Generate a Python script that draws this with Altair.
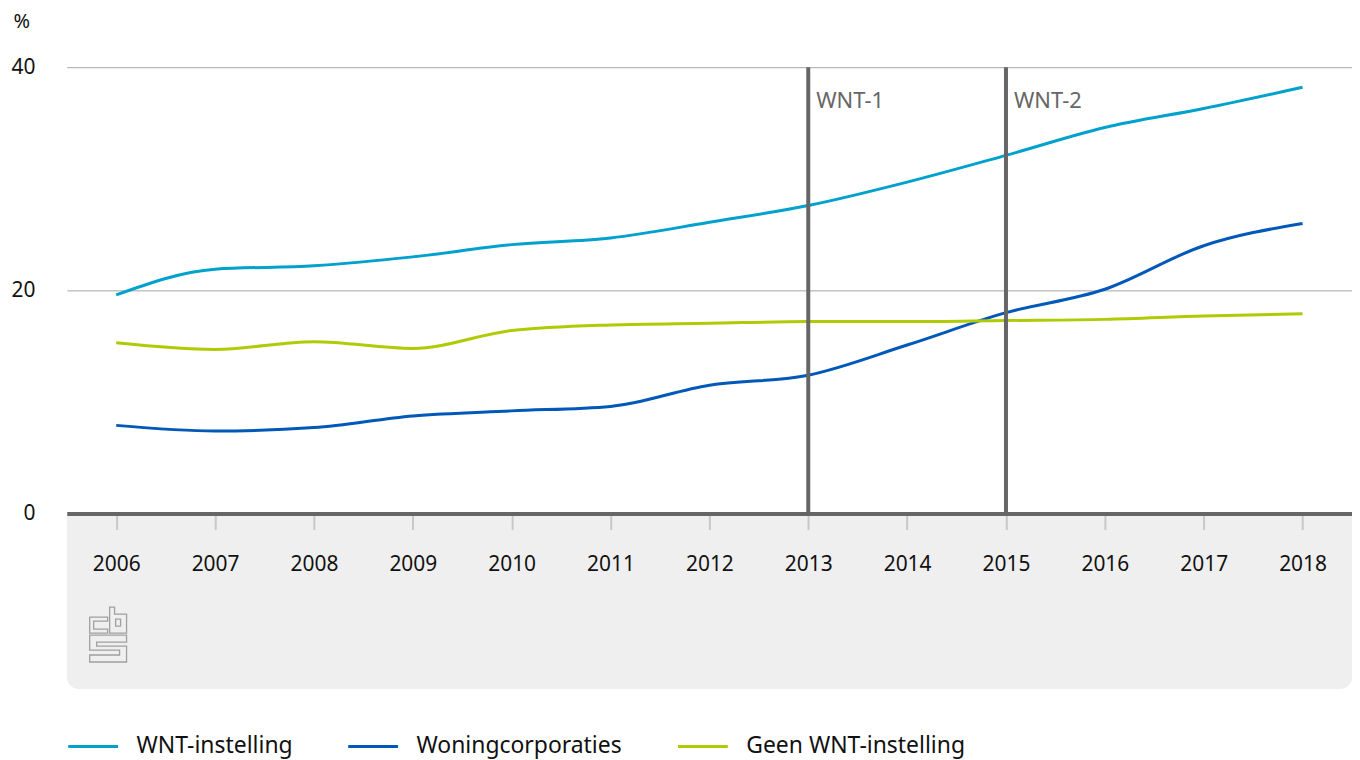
import altair as alt
import pandas as pd

years = list(range(2006, 2019))
wnt = [19.6, 21.9, 22.2, 23.0, 24.1, 24.7, 26.1, 27.6, 29.7, 32.1, 34.6, 36.3, 38.2]
woning = [7.9, 7.4, 7.7, 8.75, 9.2, 9.6, 11.5, 12.4, 15.1, 18.0, 20.1, 24.0, 26.0]
geen = [15.3, 14.7, 15.4, 14.8, 16.4, 16.9, 17.05, 17.2, 17.2, 17.3, 17.4, 17.7, 17.9]
series_names = ["WNT-instelling", "Woningcorporaties", "Geen WNT-instelling"]
series_colors = ["#00a1cd", "#0058b8", "#afcb05"]

marker_years = [2013, 2015]
marker_labels = ["WNT-1", "WNT-2"]
y_ticks = [0, 20, 40]

FONT = "Noto Sans"
W, H = 1290, 448

rows = []
for name, vals in zip(series_names, [wnt, woning, geen]):
    for yr, v in zip(years, vals):
        rows.append({"jaar": yr, "waarde": v, "reeks": name})
df = pd.DataFrame(rows)
markers = pd.DataFrame({"jaar": marker_years, "label": marker_labels, "pos": [37, 37]})

# cbs logo outline (pixel coords inside a 37x55 box)
logo_polys = [
    [(18, 10), (0, 10), (0, 26), (18, 26), (18, 22), (4, 22), (4, 14), (18, 14)],
    [(20, 0), (25, 0), (25, 7), (37, 7), (37, 26), (20, 26)],
    [(26, 12), (31, 12), (31, 19), (26, 19)],
    [(0, 28), (37, 28), (37, 35), (7, 35), (7, 39), (37, 39), (37, 55), (0, 55),
     (0, 48), (30, 48), (30, 43), (0, 43)],
]
def to_path(polys):
    parts = []
    for poly in polys:
        pts = [((x - 18.5) / 27.5, (y - 27.5) / 27.5) for x, y in poly]
        s = "M%.3f,%.3f" % pts[0] + "".join("L%.3f,%.3f" % p for p in pts[1:]) + "Z"
        parts.append(s)
    return "".join(parts)
logo_path = to_path(logo_polys)

one = pd.DataFrame({"a": [0]})

bg = alt.Chart(one).mark_rect(
    color="#efefef", cornerRadiusBottomLeft=12, cornerRadiusBottomRight=12, clip=False
).encode(
    x=alt.value(0), x2=alt.value(W), y=alt.value(H), y2=alt.value(H + 176)
)

logo = alt.Chart(one).mark_point(
    shape=logo_path, size=3025, filled=False, stroke="#a0a0a0", strokeWidth=1.3,
    opacity=1, clip=False
).encode(x=alt.value(41.5), y=alt.value(569.5))

xscale = alt.Scale(domain=[2005.5, 2018.5], nice=False, zero=False)
yscale = alt.Scale(domain=[0, 40], nice=False)

lines = alt.Chart(df).mark_line(interpolate="monotone", strokeWidth=3).encode(
    x=alt.X("jaar:Q", scale=xscale, axis=alt.Axis(
        values=years, format="d", title=None, zindex=1,
        domainColor="#666666", domainWidth=4,
        tickColor="#c8c8c8", tickWidth=2, tickSize=16,
        labelFont=FONT, labelFontSize=21, labelColor="#111111",
        labelPadding=35, labelBaseline="middle", grid=False)),
    y=alt.Y("waarde:Q", scale=yscale, axis=alt.Axis(
        values=y_ticks, title="%", titleAngle=0, titleAlign="left",
        titleBaseline="middle", titleX=-54, titleY=-46, titleFont=FONT,
        titleFontSize=20, titleFontWeight="normal", titleColor="#111111",
        domain=False, ticks=False, grid=True, gridColor="#a6a6a6", gridWidth=1,
        labelFont=FONT, labelFontSize=21, labelColor="#111111", labelPadding=32)),
    color=alt.Color("reeks:N", sort=series_names,
                    scale=alt.Scale(domain=series_names, range=series_colors),
                    legend=alt.Legend(
                        title=None, orient="none", legendX=0, legendY=655,
                        direction="horizontal", symbolType="stroke",
                        symbolSize=2500, symbolStrokeWidth=3, labelOffset=17,
                        columnPadding=49, labelFont=FONT, labelFontSize=23,
                        labelColor="#111111", padding=0, labelLimit=400)),
)

rules = alt.Chart(markers).mark_rule(color="#666666", strokeWidth=4).encode(
    x=alt.X("jaar:Q", scale=xscale)
)
labels = alt.Chart(markers).mark_text(
    align="left", baseline="middle", dx=8, font=FONT, fontSize=22, color="#666666"
).encode(
    x=alt.X("jaar:Q", scale=xscale),
    y=alt.Y("pos:Q", scale=yscale),
    text="label:N",
)

chart = alt.layer(bg, logo, lines, rules, labels).properties(
    width=W, height=H,
    autosize=alt.AutoSizeParams(type="none"),
    padding={"left": 59, "top": 58, "right": 0, "bottom": 254},
).configure_view(stroke=None)

chart.save("out.html", embed_options={"renderer": "svg", "actions": False})
